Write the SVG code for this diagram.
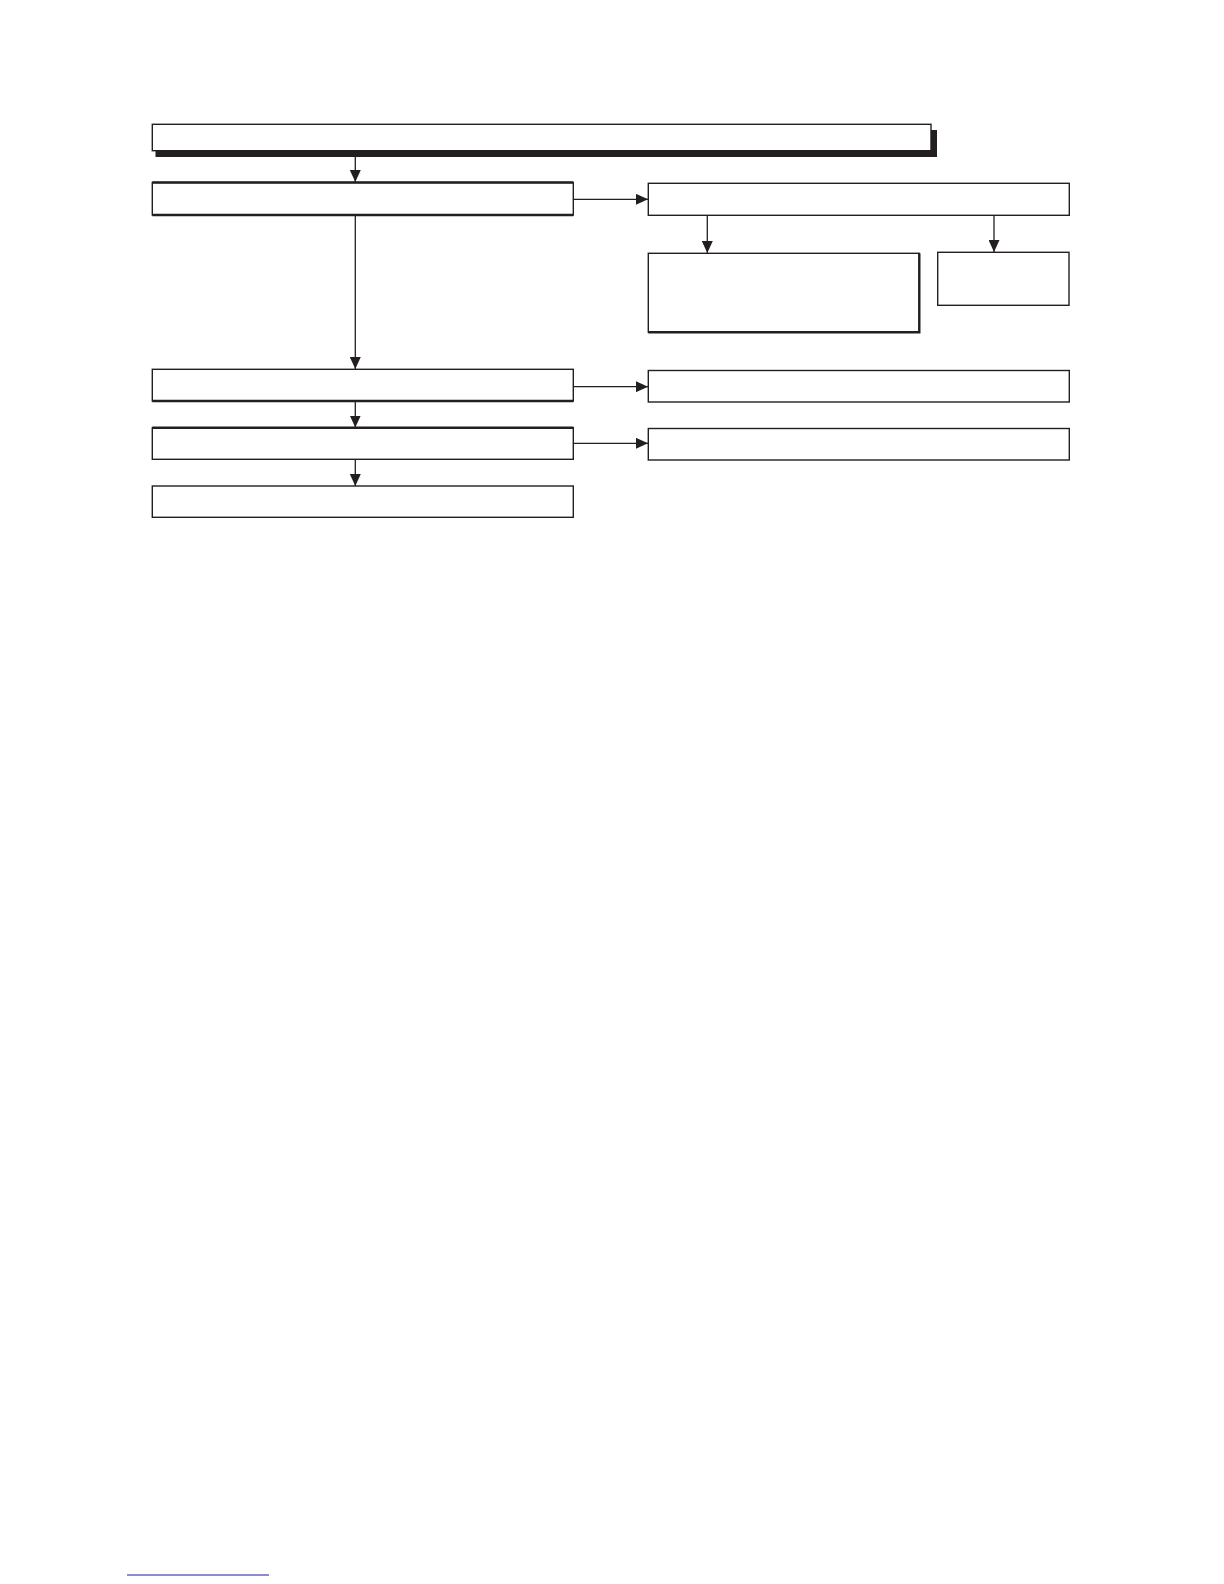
<svg xmlns="http://www.w3.org/2000/svg" width="1224" height="1584" viewBox="0 0 1224 1584">
<style>
.box{fill:#fff;stroke:#231f20;stroke-width:1.4}
.thick{fill:none;stroke:#231f20;stroke-width:2.4}
.conn{fill:none;stroke:#231f20;stroke-width:1.3}
</style>
<defs>
<marker id="ah" viewBox="0 0 12 11" refX="12" refY="5.5" markerWidth="12" markerHeight="11" markerUnits="userSpaceOnUse" orient="auto">
<path d="M0,0 L12,5.5 L0,11 Z" fill="#231f20"/>
</marker>
</defs>
<rect width="1224" height="1584" fill="#fff"/>
<g id="n-top">
<rect x="155.5" y="130" width="781.5" height="27" fill="#231f20"/>
<rect class="box" x="152.3" y="124.3" width="778.7" height="26.4"/>
</g>
<g id="n-left1">
<rect class="box" x="152.3" y="182.5" width="421" height="32.5"/>
<line class="thick" x1="152.3" y1="182.5" x2="573.3" y2="182.5"/>
<line class="thick" x1="152.3" y1="215" x2="573.3" y2="215"/>
</g>
<g id="n-right1">
<rect class="box" x="648.3" y="183.3" width="421" height="32"/>
</g>
<g id="n-sub-left">
<rect class="box" x="648.3" y="253.3" width="271" height="79"/>
<path class="thick" d="M919.3,253.3 V332.3 H648.3"/>
</g>
<g id="n-sub-right">
<rect class="box" x="937.7" y="252.3" width="131.3" height="53"/>
</g>
<g id="n-left2">
<rect class="box" x="152.3" y="369.3" width="421" height="31.7"/>
<line class="thick" x1="152.3" y1="401" x2="573.3" y2="401"/>
</g>
<g id="n-right2">
<rect class="box" x="648.3" y="370.5" width="421" height="31.5"/>
</g>
<g id="n-left3">
<rect class="box" x="152.3" y="427.7" width="421" height="31.6"/>
<line class="thick" x1="152.3" y1="427.7" x2="573.3" y2="427.7"/>
</g>
<g id="n-right3">
<rect class="box" x="648.3" y="428.5" width="421" height="31.5"/>
</g>
<g id="n-left4">
<rect class="box" x="152.3" y="486" width="421" height="31.3"/>
</g>
<g id="connectors">
<line class="conn" x1="355.3" y1="157" x2="355.3" y2="182" marker-end="url(#ah)"/>
<line class="conn" x1="573.3" y1="199.3" x2="648" y2="199.3" marker-end="url(#ah)"/>
<line class="conn" x1="707.3" y1="215.3" x2="707.3" y2="253" marker-end="url(#ah)"/>
<line class="conn" x1="994" y1="215.3" x2="994" y2="252" marker-end="url(#ah)"/>
<line class="conn" x1="355.3" y1="215" x2="355.3" y2="369" marker-end="url(#ah)"/>
<line class="conn" x1="573.3" y1="386.7" x2="648" y2="386.7" marker-end="url(#ah)"/>
<line class="conn" x1="355.3" y1="401" x2="355.3" y2="427.5" marker-end="url(#ah)"/>
<line class="conn" x1="573.3" y1="443.3" x2="648" y2="443.3" marker-end="url(#ah)"/>
<line class="conn" x1="355.3" y1="459.3" x2="355.3" y2="486" marker-end="url(#ah)"/>
</g>
<line x1="127" y1="1575" x2="269" y2="1575" stroke="#1a1a9e" stroke-width="1.2"/>
</svg>
